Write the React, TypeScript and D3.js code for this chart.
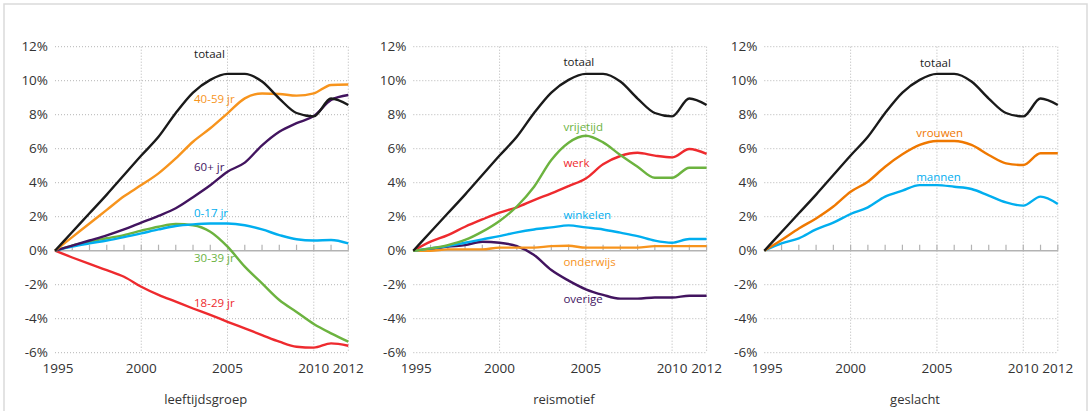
import * as React from "react"
import * as d3 from "d3"

// jaren op de x-as
const years = [1995, 1996, 1997, 1998, 1999, 2000, 2001, 2002, 2003, 2004, 2005, 2006, 2007, 2008, 2009, 2010, 2011, 2012]
const yearTicks = [1995, 2000, 2005, 2010, 2012]
const gridYears = [2000, 2005, 2010, 2012]
const yTicks = [-6, -4, -2, 0, 2, 4, 6, 8, 10, 12]

// groei t.o.v. 1995 (%)
const totaal = [0, 1.1, 2.2, 3.3, 4.45, 5.6, 6.7, 8.1, 9.3, 10.05, 10.4, 10.4, 9.95, 8.95, 8.1, 7.9, 8.95, 8.57]

const jr40_59 = [0, 0.8, 1.6, 2.4, 3.2, 3.86, 4.55, 5.43, 6.41, 7.2, 8.08, 8.96, 9.25, 9.22, 9.12, 9.25, 9.75, 9.78]
const jr60plus = [0, 0.3, 0.6, 0.9, 1.25, 1.65, 2.05, 2.5, 3.15, 3.85, 4.65, 5.18, 6.2, 7.0, 7.5, 7.92, 8.86, 9.16]
const jr0_17 = [0, 0.24, 0.43, 0.6, 0.8, 1.02, 1.25, 1.45, 1.55, 1.6, 1.6, 1.5, 1.25, 0.92, 0.67, 0.6, 0.63, 0.43]
const jr30_39 = [0, 0.3, 0.53, 0.73, 0.92, 1.18, 1.41, 1.57, 1.5, 1.12, 0.24, -0.94, -1.92, -2.9, -3.6, -4.31, -4.86, -5.35]
const jr18_29 = [0, -0.4, -0.78, -1.14, -1.53, -2.12, -2.6, -3.0, -3.4, -3.78, -4.18, -4.57, -4.96, -5.35, -5.65, -5.7, -5.45, -5.59]

const vrijetijd = [0, 0.14, 0.33, 0.63, 1.12, 1.75, 2.6, 3.76, 5.33, 6.35, 6.76, 6.37, 5.63, 4.94, 4.29, 4.29, 4.88, 4.88]
const werk = [0, 0.53, 0.92, 1.41, 1.84, 2.24, 2.55, 2.98, 3.37, 3.8, 4.25, 5.08, 5.57, 5.76, 5.59, 5.49, 5.98, 5.69]
const winkelen = [0, 0.14, 0.27, 0.47, 0.67, 0.86, 1.08, 1.25, 1.37, 1.49, 1.37, 1.25, 1.06, 0.86, 0.59, 0.47, 0.69, 0.69]
const onderwijs = [0, 0, 0.08, 0.08, 0.08, 0.18, 0.18, 0.18, 0.27, 0.29, 0.18, 0.18, 0.18, 0.18, 0.27, 0.27, 0.27, 0.27]
const overige = [0, 0.08, 0.24, 0.33, 0.53, 0.47, 0.27, -0.25, -1.14, -1.76, -2.27, -2.6, -2.82, -2.82, -2.75, -2.75, -2.65, -2.65]

const vrouwen = [0, 0.63, 1.31, 1.9, 2.6, 3.47, 4.06, 4.94, 5.67, 6.22, 6.45, 6.45, 6.22, 5.63, 5.14, 5.04, 5.73, 5.73]
const mannen = [0, 0.43, 0.73, 1.25, 1.65, 2.16, 2.55, 3.18, 3.53, 3.86, 3.86, 3.76, 3.63, 3.24, 2.84, 2.65, 3.18, 2.75]

const C = {
  black: "#1a1a1a",
  orange: "#f7941d",
  darkOrange: "#ef7800",
  purple: "#42145f",
  blue: "#01aeef",
  green: "#6cb33f",
  red: "#ee2a2e",
}

const FONT = "'Open Sans', 'Noto Sans', sans-serif"

interface Series {
  name: string
  values: number[]
  color: string
  // label anker in data-coordinaten
  lx: number
  ly: number
}

interface Panel {
  title: string
  x0: number
  x1: number
  series: Series[]
}

const panels: Panel[] = [
  {
    title: "leeftijdsgroep",
    x0: 55,
    x1: 348.3,
    series: [
      { name: "18-29 jr", values: jr18_29, color: C.red, lx: 2003.06, ly: -3.29 },
      { name: "30-39 jr", values: jr30_39, color: C.green, lx: 2003.06, ly: -0.65 },
      { name: "0-17 jr", values: jr0_17, color: C.blue, lx: 2003.06, ly: 1.96 },
      { name: "60+ jr", values: jr60plus, color: C.purple, lx: 2003.06, ly: 4.7 },
      { name: "40-59 jr", values: jr40_59, color: C.orange, lx: 2003.06, ly: 8.69 },
      { name: "totaal", values: totaal, color: C.black, lx: 2003.06, ly: 11.34 },
    ],
  },
  {
    title: "reismotief",
    x0: 413.3,
    x1: 706.6,
    series: [
      { name: "overige", values: overige, color: C.purple, lx: 2003.7, ly: -3.06 },
      { name: "onderwijs", values: onderwijs, color: C.orange, lx: 2003.7, ly: -0.88 },
      { name: "winkelen", values: winkelen, color: C.blue, lx: 2003.7, ly: 1.85 },
      { name: "werk", values: werk, color: C.red, lx: 2003.7, ly: 4.94 },
      { name: "vrijetijd", values: vrijetijd, color: C.green, lx: 2003.7, ly: 7.06 },
      { name: "totaal", values: totaal, color: C.black, lx: 2003.7, ly: 10.86 },
    ],
  },
  {
    title: "geslacht",
    x0: 764.3,
    x1: 1057.8,
    series: [
      { name: "mannen", values: mannen, color: C.blue, lx: 2003.8, ly: 4.12 },
      { name: "vrouwen", values: vrouwen, color: C.darkOrange, lx: 2003.8, ly: 6.71 },
      { name: "totaal", values: totaal, color: C.black, lx: 2004.02, ly: 10.79 },
    ],
  },
]

const y = d3.scaleLinear().domain([-6, 12]).range([352.7, 46.7])

function ChartPanel({ p }: { p: Panel }) {
  const x = d3.scaleLinear().domain([1995, 2012]).range([p.x0, p.x1])
  const line = d3
    .line<number>()
    .x((_, i) => x(years[i]))
    .y((d) => y(d))
    .curve(d3.curveMonotoneX)

  return (
    <g>
      {/* stippel-raster */}
      {yTicks
        .filter((t) => t !== 0)
        .map((t) => (
          <line key={"h" + t} x1={p.x0} x2={p.x1} y1={y(t)} y2={y(t)} stroke="#b5b5b5" strokeWidth={1} strokeDasharray="1 2" />
        ))}
      {gridYears.map((yr) => (
        <line key={"v" + yr} x1={x(yr)} x2={x(yr)} y1={y(12)} y2={y(-6)} stroke="#b5b5b5" strokeWidth={1} strokeDasharray="1 2" />
      ))}
      {/* nul-as met jaar-streepjes */}
      <line x1={p.x0} x2={p.x1} y1={y(0)} y2={y(0)} stroke="#b3b3b3" strokeWidth={1.6} />
      {years.slice(1).map((yr) => (
        <line key={"t" + yr} x1={x(yr)} x2={x(yr)} y1={y(0)} y2={y(0) - 6} stroke="#b3b3b3" strokeWidth={1.2} />
      ))}
      {yTicks.map((t) => (
        <text key={"yl" + t} x={p.x0 - 7} y={y(t)} dy="0.33em" textAnchor="end" fontSize={13.5} fill="#333" fontFamily={FONT}>
          {t}%
        </text>
      ))}
      {yearTicks.map((yr) => (
        <text key={"xl" + yr} x={x(yr) + (yr === 1995 ? 3 : 0)} y={373} textAnchor="middle" fontSize={13.5} fill="#333" fontFamily={FONT}>
          {yr}
        </text>
      ))}
      <text x={(p.x0 + p.x1) / 2 + 4} y={403.5} textAnchor="middle" fontSize={13} fill="#333" fontFamily={FONT}>
        {p.title}
      </text>
      {p.series.map((s) => (
        <path key={s.name} d={line(s.values) ?? ""} fill="none" stroke={s.color} strokeWidth={2.4} strokeLinejoin="round" />
      ))}
      {p.series.map((s) => (
        <text key={"lab" + s.name} x={x(s.lx)} y={y(s.ly)} fontSize={11.5} fill={s.color} fontFamily={FONT}>
          {s.name}
        </text>
      ))}
    </g>
  )
}

export default function App() {
  return (
    <svg
      width={1091}
      height={411}
      viewBox="0 0 1091 411"
      style={{ position: "absolute", left: 0, top: 0, background: "#fff" }}
    >
      <rect x={4} y={4} width={1083} height={420} fill="none" stroke="#dadada" strokeWidth={1.5} />
      {panels.map((p) => (
        <ChartPanel key={p.title} p={p} />
      ))}
    </svg>
  )
}
